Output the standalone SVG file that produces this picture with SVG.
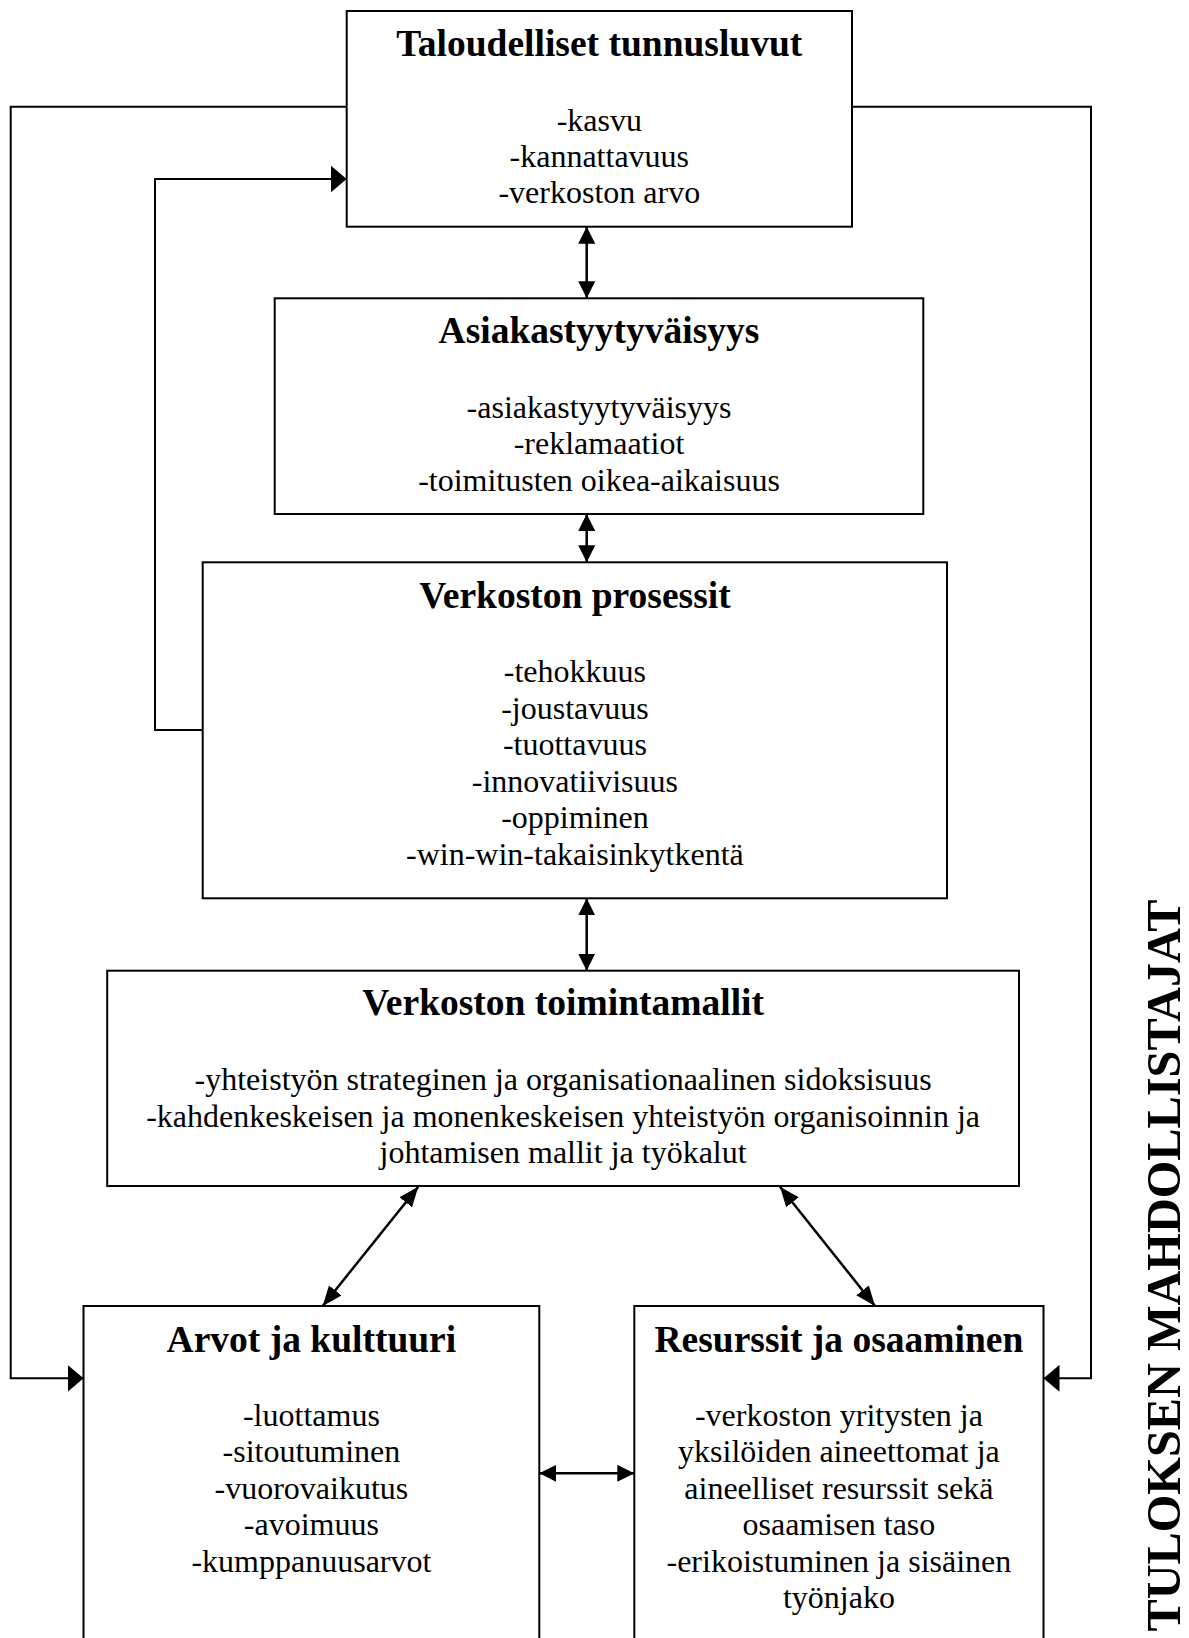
<svg xmlns="http://www.w3.org/2000/svg" width="1189" height="1638" viewBox="0 0 1189 1638">
<style>
  .box { fill: #ffffff; stroke: #000000; stroke-width: 2; }
  .title { font-family: "Liberation Serif", "Times New Roman", serif; font-weight: bold; font-size: 37.5px; fill: #000000; text-anchor: middle; }
  .body { font-family: "Liberation Serif", "Times New Roman", serif; font-size: 32px; fill: #000000; text-anchor: middle; }
  .side { font-family: "Liberation Serif", "Times New Roman", serif; font-weight: bold; font-size: 48px; fill: #000000; text-anchor: middle; }
  .conn { fill: none; stroke: #000000; stroke-width: 2; }
  .dbl { fill: none; stroke: #000000; stroke-width: 2.5; }
</style>
<defs>
  <marker id="head" markerUnits="userSpaceOnUse" viewBox="0 0 17 17" refX="17" refY="8.5" markerWidth="17" markerHeight="17" orient="auto-start-reverse">
    <path d="M0,0 L17,8.5 L0,17 z" fill="#000000"/>
  </marker>
  <marker id="bighead" markerUnits="userSpaceOnUse" viewBox="0 0 16 27" refX="16" refY="13.5" markerWidth="16" markerHeight="27" orient="auto-start-reverse">
    <path d="M0,0 L16,13.5 L0,27 z" fill="#000000"/>
  </marker>
  <marker id="diaghead" markerUnits="userSpaceOnUse" viewBox="0 0 20 16" refX="20" refY="8" markerWidth="20" markerHeight="16" orient="auto-start-reverse">
    <path d="M0,0 L20,8 L0,16 z" fill="#000000"/>
  </marker>
</defs>

<g id="connectors">
  <polyline class="conn" points="346.7,106.7 10.7,106.7 10.7,1378.3 83.5,1378.3" marker-end="url(#bighead)"/>
  <polyline class="conn" points="852,106.7 1091,106.7 1091,1378.3 1043.5,1378.3" marker-end="url(#bighead)"/>
  <polyline class="conn" points="202.7,730 155,730 155,179 346.7,179" marker-end="url(#bighead)"/>
  <line class="dbl" x1="586.7" y1="226.7" x2="586.7" y2="298.3" marker-start="url(#head)" marker-end="url(#head)"/>
  <line class="dbl" x1="586.7" y1="514" x2="586.7" y2="562.3" marker-start="url(#head)" marker-end="url(#head)"/>
  <line class="dbl" x1="586.7" y1="898.3" x2="586.7" y2="970.7" marker-start="url(#head)" marker-end="url(#head)"/>
  <line class="dbl" x1="418.3" y1="1186.7" x2="322.7" y2="1306" marker-start="url(#diaghead)" marker-end="url(#diaghead)"/>
  <line class="dbl" x1="780" y1="1186.7" x2="875" y2="1306" marker-start="url(#diaghead)" marker-end="url(#diaghead)"/>
  <line class="dbl" x1="539.3" y1="1473.3" x2="634.3" y2="1473.3" marker-start="url(#head)" marker-end="url(#head)"/>
</g>

<g id="node-taloudelliset">
  <rect class="box" x="346.7" y="11" width="505.3" height="215.7"/>
  <text class="title" x="599.3" y="55.5">Taloudelliset tunnusluvut</text>
  <text class="body" x="599.3" y="130.5">-kasvu</text>
  <text class="body" x="599.3" y="166.8">-kannattavuus</text>
  <text class="body" x="599.3" y="203.1">-verkoston arvo</text>
</g>

<g id="node-asiakastyytyvaisyys">
  <rect class="box" x="274.7" y="298.3" width="648.6" height="215.7"/>
  <text class="title" x="599" y="343">Asiakastyytyväisyys</text>
  <text class="body" x="599" y="418">-asiakastyytyväisyys</text>
  <text class="body" x="599" y="454.3">-reklamaatiot</text>
  <text class="body" x="599" y="490.6">-toimitusten oikea-aikaisuus</text>
</g>

<g id="node-prosessit">
  <rect class="box" x="202.7" y="562.3" width="744.3" height="336"/>
  <text class="title" x="574.9" y="607.5">Verkoston prosessit</text>
  <text class="body" x="574.9" y="682">-tehokkuus</text>
  <text class="body" x="574.9" y="718.5">-joustavuus</text>
  <text class="body" x="574.9" y="755">-tuottavuus</text>
  <text class="body" x="574.9" y="791.5">-innovatiivisuus</text>
  <text class="body" x="574.9" y="828">-oppiminen</text>
  <text class="body" x="574.9" y="864.5">-win-win-takaisinkytkentä</text>
</g>

<g id="node-toimintamallit">
  <rect class="box" x="107.2" y="970.7" width="911.8" height="215.3"/>
  <text class="title" x="563.1" y="1015.2">Verkoston toimintamallit</text>
  <text class="body" x="563.1" y="1090.2">-yhteistyön strateginen ja organisationaalinen sidoksisuus</text>
  <text class="body" x="563.1" y="1126.6">-kahdenkeskeisen ja monenkeskeisen yhteistyön organisoinnin ja</text>
  <text class="body" x="563.1" y="1163">johtamisen mallit ja työkalut</text>
</g>

<g id="node-arvot">
  <rect class="box" x="83.5" y="1306" width="455.8" height="400"/>
  <text class="title" x="311.4" y="1351.5">Arvot ja kulttuuri</text>
  <text class="body" x="311.4" y="1425.5">-luottamus</text>
  <text class="body" x="311.4" y="1462">-sitoutuminen</text>
  <text class="body" x="311.4" y="1498.5">-vuorovaikutus</text>
  <text class="body" x="311.4" y="1535">-avoimuus</text>
  <text class="body" x="311.4" y="1571.5">-kumppanuusarvot</text>
</g>

<g id="node-resurssit">
  <rect class="box" x="634.3" y="1306" width="409.2" height="400"/>
  <text class="title" x="838.9" y="1351.5">Resurssit ja osaaminen</text>
  <text class="body" x="838.9" y="1425.5">-verkoston yritysten ja</text>
  <text class="body" x="838.9" y="1462">yksilöiden aineettomat ja</text>
  <text class="body" x="838.9" y="1498.5">aineelliset resurssit sekä</text>
  <text class="body" x="838.9" y="1535">osaamisen taso</text>
  <text class="body" x="838.9" y="1571.5">-erikoistuminen ja sisäinen</text>
  <text class="body" x="838.9" y="1608">työnjako</text>
</g>

<g id="side-label">
  <text class="side" transform="translate(1179.5,1265.5) rotate(-90)" x="0" y="0" textLength="732" lengthAdjust="spacingAndGlyphs">TULOKSEN MAHDOLLISTAJAT</text>
</g>
</svg>
